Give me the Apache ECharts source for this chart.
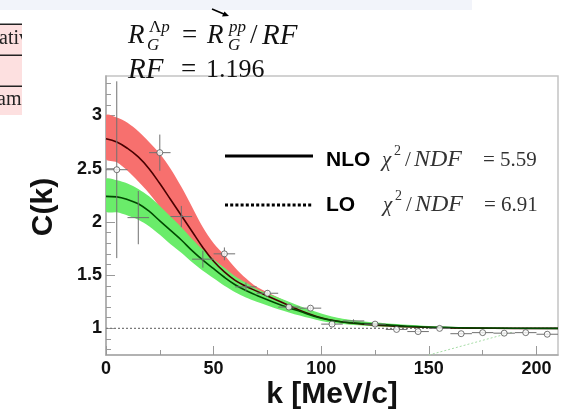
<!DOCTYPE html>
<html>
<head>
<meta charset="utf-8">
<script src="https://cdn.jsdelivr.net/npm/echarts@6/dist/echarts.min.js"></script>
<style>html,body{margin:0;padding:0;background:#fff;}#c{width:564px;height:409px;}</style>
</head>
<body>
<div id="c"></div>
<script>
// ---- curve grid (k in MeV/c) and band values ----
const kGrid    = [0,5,10,15,20,25,30,35,40,45,50,55,60,65,70,80,90,100,110,120,140,160,180,210];
const redMid   = [2.78,2.75,2.69,2.61,2.50,2.36,2.21,2.06,1.91,1.76,1.63,1.53,1.45,1.395,1.35,1.26,1.17,1.10,1.06,1.04,1.015,1.005,1.001,1.0];
const redHi    = [3.00,2.98,2.93,2.85,2.75,2.64,2.50,2.33,2.14,1.95,1.80,1.69,1.57,1.47,1.39,1.29,1.20,1.13,1.085,1.06,1.025,1.01,1.003,1.0];
const redLo    = [2.59,2.56,2.48,2.38,2.27,2.14,1.99,1.85,1.71,1.58,1.49,1.42,1.36,1.31,1.27,1.195,1.13,1.08,1.045,1.03,1.01,1.002,1.0,1.0];
const greenMid = [2.24,2.235,2.21,2.17,2.10,2.01,1.92,1.83,1.73,1.64,1.56,1.48,1.41,1.355,1.31,1.23,1.16,1.095,1.06,1.045,1.02,1.008,1.003,1.0];
const greenHi  = [2.40,2.39,2.36,2.31,2.24,2.15,2.05,1.95,1.84,1.74,1.65,1.57,1.49,1.43,1.37,1.29,1.21,1.14,1.09,1.065,1.035,1.015,1.005,1.0];
const greenLo  = [2.10,2.09,2.06,2.02,1.96,1.88,1.79,1.71,1.62,1.54,1.47,1.40,1.34,1.29,1.25,1.18,1.12,1.07,1.04,1.025,1.008,1.0,1.0,1.0];

// ---- data points with open circles ----
const circK    = [5,25,55,75,85,95,105,125,135,145,155,165,175,185,195,205];
const circC    = [2.49,2.65,1.70,1.33,1.20,1.19,1.04,1.04,0.99,0.97,1.00,0.95,0.96,0.955,0.96,0.945];
const circErr  = [0.83,0.17,0.06,0.03,0.02,0.02,0.015,0.01,0.01,0.01,0.01,0.01,0.01,0.01,0.01,0.01];
// ---- data points drawn as crosses only ----
const crossK   = [15,35,45,65,115];
const crossC   = [2.04,2.05,1.65,1.39,1.07];
const crossErr = [0.25,0.10,0.08,0.04,0.015];
const binHalf  = 5;

// ---- reference line and faint line ----
const unityK = [0,210];
const unityC = [1,1];
const faintK = [150,189];
const faintC = [0.75,0.965];

// ---- tick values ----
const xMajor = [0,50,100,150,200];
const xMinor = [25,75,125,175];
const yMajor = [1,1.5,2,2.5,3];
const yMinor = [0.8,0.9,1.1,1.2,1.3,1.4,1.6,1.7,1.8,1.9,2.1,2.2,2.3,2.4,2.6,2.7,2.8,2.9,3.1,3.2,3.3];

const zip = (a,b) => a.map((v,i)=>[v,b[i]]);

const SANS = 'Liberation Sans';

function errBars(ks, cs, es){ return ks.map((k,i)=>[k, cs[i], binHalf, es[i]]); }
function renderErr(params, api){
  const k=api.value(0), c=api.value(1), ek=api.value(2), ec=api.value(3);
  const a=api.coord([k-ek,c]), b=api.coord([k+ek,c]);
  const d=api.coord([k,c-ec]), u=api.coord([k,c+ec]);
  const st={stroke:'#707070', lineWidth:1};
  return {type:'group', children:[
    {type:'line', shape:{x1:a[0],y1:a[1],x2:b[0],y2:b[1]}, style:st},
    {type:'line', shape:{x1:d[0],y1:d[1],x2:u[0],y2:u[1]}, style:st}
  ]};
}
function bandRender(ks, hi, lo, color){
  return function(params, api){
    if (params.dataIndex !== 0) return null;
    const pts = [];
    for (let i=0;i<ks.length;i++) pts.push(api.coord([ks[i], hi[i]]));
    for (let i=ks.length-1;i>=0;i--) pts.push(api.coord([ks[i], lo[i]]));
    return {type:'polygon', shape:{points:pts, smooth:0.3}, style:{fill:color, stroke:null}};
  };
}

const chart = echarts.init(document.getElementById('c'), null, {renderer:'canvas'});
const axisGray = '#a8a8a8';
const option = {
  animation:false,
  backgroundColor:'#ffffff',
  textStyle:{fontFamily:SANS},
  grid:{left:106, right:6, top:76, bottom:54, containLabel:false, show:true, borderColor:'#c4c4c4', borderWidth:1.5, backgroundColor:'transparent'},
  xAxis:[
    {type:'value', min:0, max:210, position:'bottom',
     axisLine:{show:true, lineStyle:{color:axisGray, width:1.5}},
     axisTick:{show:true, inside:true, length:9, customValues:xMajor, lineStyle:{color:'#999'}},
     axisLabel:{show:true, customValues:xMajor, fontFamily:SANS, fontWeight:'bold', fontSize:18, color:'#111', margin:5},
     splitLine:{show:false}},
    {type:'value', min:0, max:210, position:'bottom',
     axisLine:{show:false},
     axisTick:{show:true, inside:true, length:5, customValues:xMinor, lineStyle:{color:'#999'}},
     axisLabel:{show:false}, splitLine:{show:false}}
  ],
  yAxis:[
    {type:'value', min:0.75, max:3.37, position:'left',
     axisLine:{show:true, lineStyle:{color:axisGray, width:1.5}},
     axisTick:{show:true, inside:true, length:9, customValues:yMajor, lineStyle:{color:'#999'}},
     axisLabel:{show:true, customValues:yMajor, fontFamily:SANS, fontWeight:'bold', fontSize:18, color:'#111', margin:4},
     splitLine:{show:false}},
    {type:'value', min:0.75, max:3.37, position:'left',
     axisLine:{show:false},
     axisTick:{show:true, inside:true, length:5, customValues:yMinor, lineStyle:{color:'#999'}},
     axisLabel:{show:false}, splitLine:{show:false}}
  ],
  series:[
    {type:'custom', renderItem:bandRender(kGrid, redHi, redLo, '#f7706e'), data:[[kGrid[0], redHi[0]]], encode:{x:0,y:1}, clip:true, silent:true, z:1},
    {type:'custom', renderItem:bandRender(kGrid, greenHi, greenLo, '#6aec6a'), data:[[kGrid[0], greenHi[0]]], encode:{x:0,y:1}, clip:true, silent:true, z:2},
    {type:'line', data:zip(unityK,unityC), symbol:'none', lineStyle:{color:'#7a7a7a', width:1.4, type:[2,2]}, z:3},
    {type:'line', data:zip(faintK,faintC), symbol:'none', lineStyle:{color:'#a6dca6', width:1, type:[2,2]}, z:3},
    {type:'line', data:zip(kGrid,redMid), smooth:0.4, symbol:'none', lineStyle:{color:'#4a0000', width:1.6}, z:4},
    {type:'line', data:zip(kGrid,greenMid), smooth:0.4, symbol:'none', lineStyle:{color:'#004a00', width:1.6}, z:4},
    {type:'custom', renderItem:renderErr, data:errBars(circK,circC,circErr), encode:{x:0,y:1}, z:5},
    {type:'custom', renderItem:renderErr, data:errBars(crossK,crossC,crossErr), encode:{x:0,y:1}, z:5},
    {type:'scatter', data:zip(circK,circC), symbol:'circle', symbolSize:6, itemStyle:{color:'#ffffff', borderColor:'#555', borderWidth:1}, z:6}
  ],
  graphic:{elements:[
    // slide background fragments
    {type:'rect', shape:{x:0,y:0,width:472,height:10}, style:{fill:'#f2f4fa'}, z:0},
    {type:'rect', shape:{x:0,y:24,width:22,height:91}, style:{fill:'#fde0e0'}, z:0},
    {type:'text', x:-1, y:39, style:{text:'ativ', font:'20px "Liberation Serif"', fill:'#222', verticalAlign:'middle'}, z:1},
    {type:'text', x:-3, y:100, style:{text:'amil', font:'20px "Liberation Serif"', fill:'#222', verticalAlign:'middle'}, z:1},
    {type:'rect', shape:{x:22,y:10,width:30,height:110}, style:{fill:'#ffffff'}, z:2},
    {type:'rect', shape:{x:0,y:23.5,width:22,height:1.5}, style:{fill:'#222'}, z:3},
    {type:'rect', shape:{x:0,y:54.5,width:22,height:1.5}, style:{fill:'#222'}, z:3},
    {type:'rect', shape:{x:0,y:85.5,width:22,height:1.5}, style:{fill:'#222'}, z:3},
    // small arrow
    {type:'line', shape:{x1:212,y1:9,x2:225,y2:14.5}, style:{stroke:'#000', lineWidth:1.5}, z:3},
    {type:'polygon', shape:{points:[[229,16],[222,16.5],[224.5,11.5]]}, style:{fill:'#000'}, z:3},
    // formula line 1
    {type:'text', x:128, y:36, style:{text:'R', font:'italic 27px "Liberation Serif"', fill:'#111', verticalAlign:'middle'}, z:3},
    {type:'text', x:149, y:28, style:{text:'{u|Λ}{i|p}', rich:{u:{font:'17px "Liberation Serif"', fill:'#111'}, i:{font:'italic 17px "Liberation Serif"', fill:'#111'}}, verticalAlign:'middle'}, z:3},
    {type:'text', x:147, y:46, style:{text:'G', font:'italic 17px "Liberation Serif"', fill:'#111', verticalAlign:'middle'}, z:3},
    {type:'text', x:182, y:36, style:{text:'=', font:'27px "Liberation Serif"', fill:'#111', verticalAlign:'middle'}, z:3},
    {type:'text', x:207, y:36, style:{text:'R', font:'italic 27px "Liberation Serif"', fill:'#111', verticalAlign:'middle'}, z:3},
    {type:'text', x:229, y:28, style:{text:'pp', font:'italic 17px "Liberation Serif"', fill:'#111', verticalAlign:'middle'}, z:3},
    {type:'text', x:228, y:46, style:{text:'G', font:'italic 17px "Liberation Serif"', fill:'#111', verticalAlign:'middle'}, z:3},
    {type:'text', x:250, y:36, style:{text:'/', font:'27px "Liberation Serif"', fill:'#111', verticalAlign:'middle'}, z:3},
    {type:'text', x:262, y:36, style:{text:'RF', font:'italic 29px "Liberation Serif"', fill:'#111', verticalAlign:'middle'}, z:3},
    // formula line 2
    {type:'text', x:128, y:70, style:{text:'RF', font:'italic 29px "Liberation Serif"', fill:'#111', verticalAlign:'middle'}, z:3},
    {type:'text', x:181, y:70, style:{text:'=', font:'27px "Liberation Serif"', fill:'#111', verticalAlign:'middle'}, z:3},
    {type:'text', x:206, y:70, style:{text:'1.196', font:'26px "Liberation Serif"', fill:'#111', verticalAlign:'middle'}, z:3},
    // legend
    {type:'line', shape:{x1:225,y1:156,x2:313,y2:156}, style:{stroke:'#000', lineWidth:3}, z:3},
    {type:'text', x:326, y:160, style:{text:'NLO', font:'bold 21px "Liberation Sans"', fill:'#000', verticalAlign:'middle'}, z:3},
    {type:'text', x:382, y:160, style:{text:'χ', font:'italic 21px "Liberation Serif"', fill:'#333', verticalAlign:'middle'}, z:3},
    {type:'text', x:394, y:151, style:{text:'2', font:'14px "Liberation Serif"', fill:'#333', verticalAlign:'middle'}, z:3},
    {type:'text', x:405, y:160, style:{text:'/', font:'21px "Liberation Serif"', fill:'#333', verticalAlign:'middle'}, z:3},
    {type:'text', x:414, y:160, style:{text:'NDF', font:'italic 24px "Liberation Serif"', fill:'#333', verticalAlign:'middle'}, z:3},
    {type:'text', x:483, y:160, style:{text:'= 5.59', font:'21px "Liberation Serif"', fill:'#333', verticalAlign:'middle'}, z:3},
    {type:'line', shape:{x1:225,y1:205,x2:313,y2:205}, style:{stroke:'#000', lineWidth:3, lineDash:[3,2.2]}, z:3},
    {type:'text', x:326, y:205, style:{text:'LO', font:'bold 21px "Liberation Sans"', fill:'#000', verticalAlign:'middle'}, z:3},
    {type:'text', x:383, y:205, style:{text:'χ', font:'italic 21px "Liberation Serif"', fill:'#333', verticalAlign:'middle'}, z:3},
    {type:'text', x:395, y:196, style:{text:'2', font:'14px "Liberation Serif"', fill:'#333', verticalAlign:'middle'}, z:3},
    {type:'text', x:406, y:205, style:{text:'/', font:'21px "Liberation Serif"', fill:'#333', verticalAlign:'middle'}, z:3},
    {type:'text', x:415, y:205, style:{text:'NDF', font:'italic 24px "Liberation Serif"', fill:'#333', verticalAlign:'middle'}, z:3},
    {type:'text', x:484, y:205, style:{text:'= 6.91', font:'21px "Liberation Serif"', fill:'#333', verticalAlign:'middle'}, z:3},
    // axis titles
    {type:'text', x:332, y:395, style:{text:'k [MeV/c]', font:'bold 30px "Liberation Sans"', fill:'#111', align:'center', verticalAlign:'middle'}, z:3},
    {type:'text', x:44, y:207, rotation:Math.PI/2, style:{text:'C(k)', font:'bold 30px "Liberation Sans"', fill:'#111', align:'center', verticalAlign:'middle'}, z:3}
  ]}
};
chart.setOption(option);
</script>
</body>
</html>
